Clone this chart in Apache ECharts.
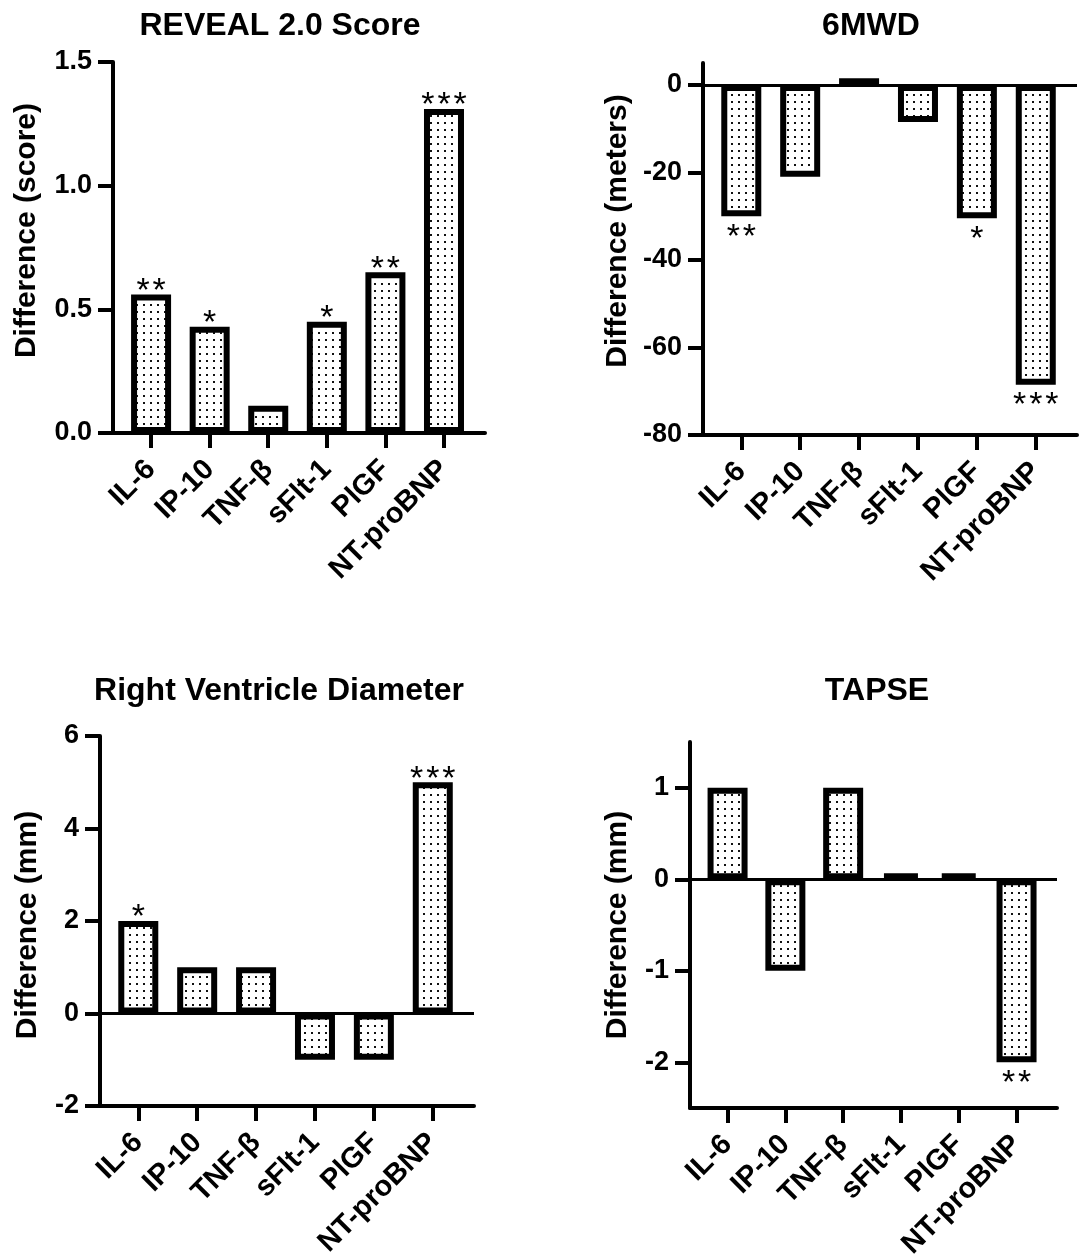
<!DOCTYPE html>
<html><head><meta charset="utf-8">
<script src="https://cdn.jsdelivr.net/npm/echarts@6/dist/echarts.min.js"></script>
<style>html,body{margin:0;padding:0;background:#fff}#c{width:1079px;height:1254px}</style>
</head><body><div id="c"></div>
<script>
const categories = ['IL-6','IP-10','TNF-β','sFlt-1','PlGF','NT-proBNP'];
const revealValues = [0.56, 0.43, 0.11, 0.45, 0.65, 1.31];
const revealSig = ['**','*','','*','**','***'];
const mwdValues = [-30, -21, 1.5, -8.5, -30.5, -68.5];
const mwdSig = ['**','','','','*','***'];
const rvdValues = [2, 1, 1, -1, -1, 5];
const rvdSig = ['*','','','','','***'];
const tapseValues = [1, -1, 1, 0, 0, -2];
const tapseSig = ['','','','','','**'];
const revealTicks = [0, 0.5, 1, 1.5];
const mwdTicks = [-80, -60, -40, -20, 0];
const rvdTicks = [-2, 0, 2, 4, 6];
const tapseTicks = [-2, -1, 0, 1];
const titles = ['REVEAL 2.0 Score', '6MWD', 'Right Ventricle Diameter', 'TAPSE'];
const yNames = ['Difference (score)', 'Difference (meters)', 'Difference (mm)', 'Difference (mm)'];

const FONT = 'Liberation Sans, Arial, sans-serif';
const pc = document.createElement('canvas');
pc.width = 7; pc.height = 7;
const pctx = pc.getContext('2d');
pctx.fillStyle = '#fff'; pctx.fillRect(0, 0, 7, 7);
pctx.fillStyle = '#111'; pctx.fillRect(3, 3, 2, 2);
const pattern = { image: pc, repeat: 'repeat' };

const panels = [
  { grid: {left: 113, top: 62, width: 372, height: 371}, vals: revealValues, sig: revealSig, ticks: revealTicks, min: 0, max: 1.5, fmt: v => v.toFixed(1), base: false, nameGap: 71, namePad: [0,0,0,34], title: {left: 275, top: 5} },
  { grid: {left: 703, top: 63, width: 374, height: 372}, vals: mwdValues, sig: mwdSig, ticks: mwdTicks, min: -80, max: 5, fmt: v => String(v), base: true, nameGap: 70, namePad: [0,0,0,36], title: {left: 866, top: 5} },
  { grid: {left: 100, top: 736, width: 374, height: 370}, vals: rvdValues, sig: rvdSig, ticks: rvdTicks, min: -2, max: 6, fmt: v => String(v), base: true, nameGap: 57, namePad: [0,8,0,0], title: {left: 274, top: 670} },
  { grid: {left: 690, top: 742, width: 367, height: 366}, vals: tapseValues, sig: tapseSig, ticks: tapseTicks, min: -2.5, max: 1.5, fmt: v => String(v), base: true, nameGap: 57, namePad: [0,0,0,0], title: {left: 872, top: 670} }
];
const catIdx = categories.map((c, i) => i);
const axisLineStyle = { color: '#000', width: 4 };

const option = {
  animation: false,
  backgroundColor: '#fff',
  title: panels.map((p, i) => ({
    text: titles[i], left: p.title.left, top: p.title.top, textAlign: 'center',
    textStyle: { fontFamily: FONT, fontSize: 32, fontWeight: 'bold', color: '#000' }
  })),
  grid: panels.map(p => Object.assign({ outerBoundsMode: 'none', containLabel: false }, p.grid)),
  xAxis: panels.map((p, i) => ({
    type: 'value', gridIndex: i, min: -0.65, max: 5.7,
    axisLine: { show: true, onZero: false, lineStyle: axisLineStyle },
    axisTick: { show: true, length: 15, lineStyle: axisLineStyle, customValues: catIdx },
    axisLabel: { show: true, customValues: catIdx, rotate: 45, margin: 32,
      formatter: v => categories[Math.round(v)],
      fontFamily: FONT, fontSize: 29, fontWeight: 'bold', color: '#000' },
    splitLine: { show: false }
  })),
  yAxis: panels.map((p, i) => ({
    type: 'value', gridIndex: i, min: p.min, max: p.max,
    name: yNames[i], nameLocation: 'middle', nameGap: p.nameGap,
    nameTextStyle: { fontFamily: FONT, fontSize: 30, fontWeight: 'bold', color: '#000', padding: p.namePad },
    axisLine: { show: true, onZero: false, lineStyle: axisLineStyle },
    axisTick: { show: true, length: 15, lineStyle: axisLineStyle, customValues: p.ticks },
    axisLabel: { show: true, customValues: p.ticks, margin: 21, formatter: p.fmt,
      fontFamily: FONT, fontSize: 27, fontWeight: 'bold', color: '#000' },
    splitLine: { show: false }
  })),
  series: panels.map((p, i) => {
    const s = {
      type: 'bar', xAxisIndex: i, yAxisIndex: i, barWidth: 40, barMinHeight: 6,
      itemStyle: { color: pattern, borderColor: '#000', borderWidth: 6 },
      label: { show: true, fontFamily: FONT, fontSize: 34, fontWeight: 'normal', color: '#000',
        formatter: q => p.sig[q.dataIndex].split('').join('\u200a') },
      data: p.vals.map((v, j) => ({
        value: [j, v],
        label: v < 0 ? { position: 'bottom', distance: 4 } : { position: 'top', distance: -14 }
      }))
    };
    if (p.base) {
      s.markLine = { silent: true, symbol: 'none', label: { show: false },
        lineStyle: { color: '#000', width: 3, type: 'solid' }, data: [{ yAxis: 0 }] };
    }
    return s;
  })
};
const chart = echarts.init(document.getElementById('c'), null, { renderer: 'canvas' });
chart.setOption(option);
</script></body></html>
